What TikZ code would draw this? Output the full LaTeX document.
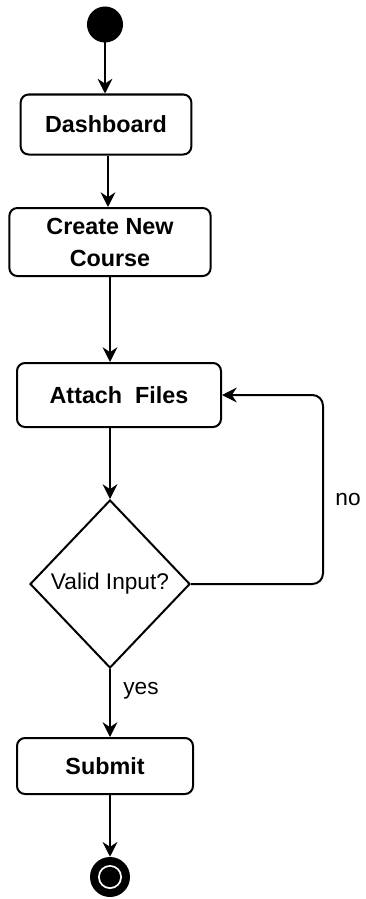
\documentclass[tikz,border=0pt]{standalone}
\usepackage{fontspec}
\setmainfont{Liberation Sans}
\usepackage{tikz}
\usetikzlibrary{shapes.geometric,arrows.meta}

\begin{document}
\begin{tikzpicture}[x=0.75pt,y=0.75pt,yscale=-1,xscale=1,
  action/.style={draw,line width=1.5pt,rounded corners=6pt,align=center,
    font=\fontsize{17.5}{24}\selectfont\bfseries,inner sep=0pt},
  decision/.style={draw,line width=1.5pt,diamond,aspect=0.95,inner sep=0pt,
    minimum width=120pt,minimum height=126pt,font=\fontsize{17}{21}\selectfont},
  flow/.style={line width=1.5pt,-{Stealth[length=11pt,width=11pt]}},
  lbl/.style={font=\fontsize{17}{21}\selectfont,inner sep=0pt}]
%set diagram size
\useasboundingbox (0,0) rectangle (365,899);

% Start
\node (start) at (105,24.5) [circle,fill=black,draw,line width=1pt,minimum size=26pt,inner sep=0pt] {};
% Dashboard
\node (dash) at (106,124.5) [action,minimum width=128pt,minimum height=45pt] {Dashboard};
% Create New Course
\node (create) at (110,242) [action,minimum width=151pt,minimum height=51pt] {Create New\\Course};
% Attach Files
\node (attach) at (119,395) [action,minimum width=153pt,minimum height=48pt] {Attach\ \ Files};
% Decision
\node (valid) at (110,584) [decision] {Valid Input?};
% Submit
\node (submit) at (105,766) [action,minimum width=132pt,minimum height=42pt] {Submit};
% End
\node (stop) at (110,877) [circle,fill=black,minimum size=30pt,inner sep=0pt] {};
\fill[white] (stop) circle [radius=9pt];
\fill[black] (stop) circle [radius=7.6pt];

% Flows
\draw[flow] (start) -- (start |- dash.north);
\draw[flow] (dash.south -| 108,0) -- (create.north -| 108,0);
\draw[flow] (create.south) -- (valid.north |- attach.north);
\draw[flow] (valid.north |- attach.south) -- (valid.north);
\draw[flow,rounded corners=8pt] (valid.east) -- (323,584) |- (attach.east);
\draw[flow] (valid.south) -- (submit.north -| valid.south);
\draw[flow] (submit.south -| stop.north) -- (stop.north);

% Labels
\node (no) at (348,500) [lbl] {no};
\node (yes) at (141,691) [lbl] {yes};
\end{tikzpicture}
\end{document}
